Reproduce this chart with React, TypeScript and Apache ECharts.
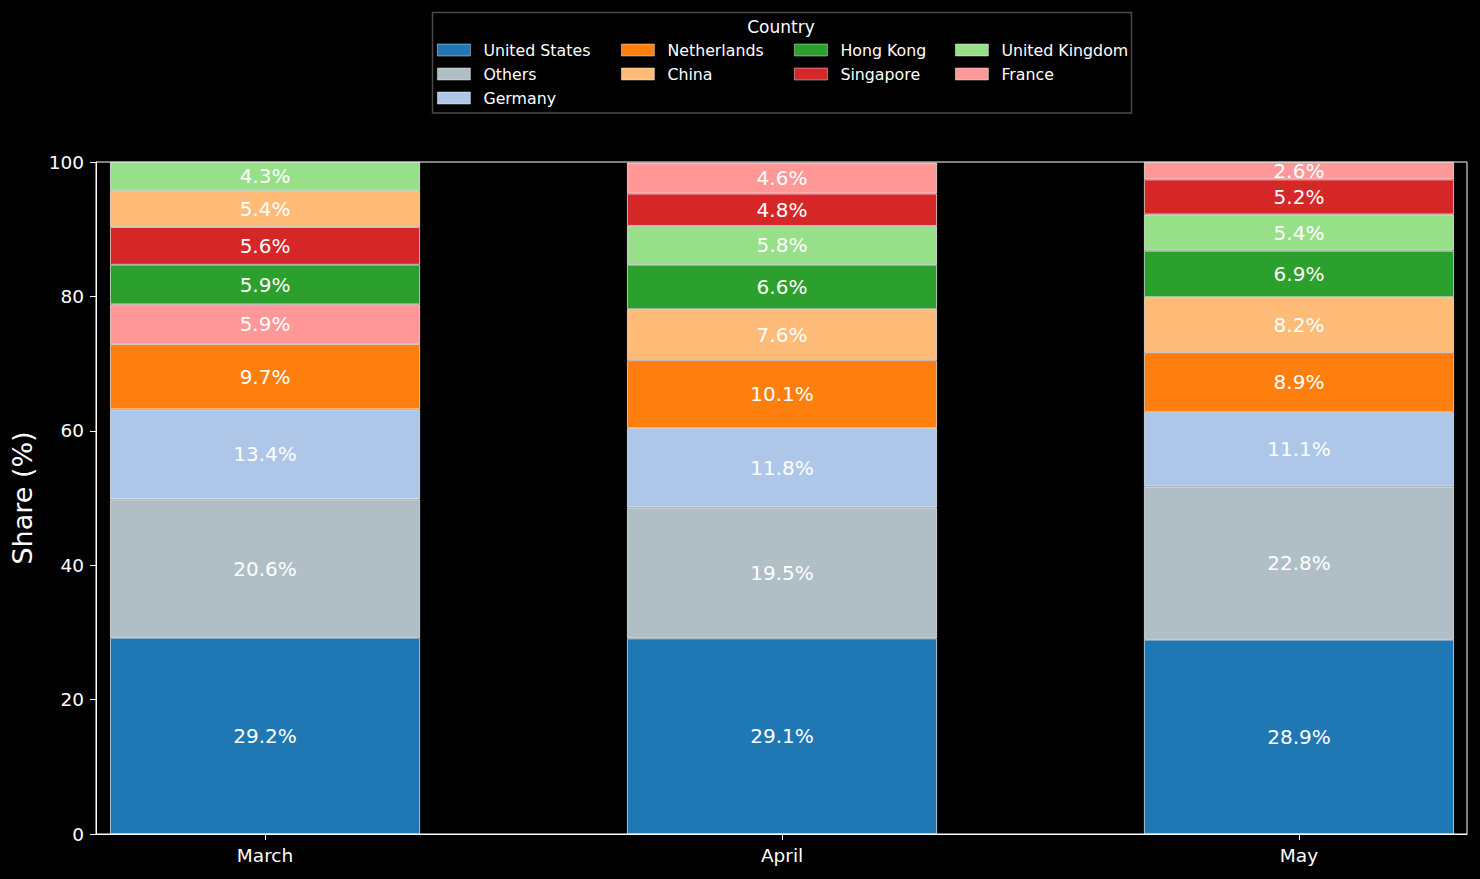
import React, { useEffect, useRef } from 'react';
import * as echarts from 'echarts';

// ---- data ----
const months = ['March', 'April', 'May'];
const countries = [
  'United States',
  'Others',
  'Germany',
  'Netherlands',
  'China',
  'Hong Kong',
  'Singapore',
  'United Kingdom',
  'France',
];
const unitedStates = [29.2, 29.1, 28.9];
const others = [20.6, 19.5, 22.8];
const germany = [13.4, 11.8, 11.1];
const netherlands = [9.7, 10.1, 8.9];
const china = [5.4, 7.6, 8.2];
const hongKong = [5.88, 6.6, 6.9];
const singapore = [5.6, 4.8, 5.2];
const unitedKingdom = [4.3, 5.8, 5.4];
const france = [5.93, 4.6, 2.6];
const yTickValues = [0, 20, 40, 60, 80, 100];

const countryValues = [
  unitedStates,
  others,
  germany,
  netherlands,
  china,
  hongKong,
  singapore,
  unitedKingdom,
  france,
];
const countryColors = [
  '#1f77b4',
  '#b0bec5',
  '#aec7e8',
  '#ff7f0e',
  '#ffbb78',
  '#2ca02c',
  '#d62728',
  '#98df8a',
  '#ff9896',
];

// legend layout (matplotlib column-major, 4 columns)
const legendColumns = [[0, 1, 2], [3, 4], [5, 6], [7, 8]];
const legendLeft = [437, 621, 794, 955];
const legendRowTop = [40, 64, 88];

const FONT = 'DejaVu Sans';

export default function App() {
  const ref = useRef<HTMLDivElement>(null);

  useEffect(() => {
    document.body.style.margin = '0';
    document.body.style.background = '#000';
    if (!ref.current) return;
    const chart = echarts.init(ref.current, null, { renderer: 'svg' });

    const rankSeries = countries.map((_, r) => ({
      type: 'bar',
      name: 'rank' + r,
      stack: 'total',
      barWidth: 310,
      encode: { x: 1, y: 0 },
      itemStyle: { borderColor: 'rgba(255,255,255,0.85)', borderWidth: 0.8 },
      label: {
        show: true,
        position: 'inside',
        color: '#ffffff',
        fontSize: 20,
        fontFamily: FONT,
        formatter: (p: any) => Number(p.value[0]).toFixed(1) + '%',
      },
      emphasis: { disabled: true },
      data: months.map((_m, mi) => {
        const order = countries
          .map((_c, ci) => ci)
          .sort((a, b) => countryValues[b][mi] - countryValues[a][mi]);
        const ci = order[r];
        return {
          value: [countryValues[ci][mi], mi],
          name: countries[ci],
          itemStyle: { color: countryColors[ci] },
        };
      }),
    }));

    const legendSeries = countries.map((c, ci) => ({
      type: 'bar',
      name: c,
      stack: 'total',
      barWidth: 310,
      encode: { x: 1, y: 0 },
      itemStyle: { color: countryColors[ci] },
      data: [],
    }));

    const legends: any[] = [];
    legendColumns.forEach((col, colIdx) => {
      col.forEach((ci, rowIdx) => {
        legends.push({
          data: [countries[ci]],
          left: legendLeft[colIdx],
          top: legendRowTop[rowIdx],
          orient: 'vertical',
          padding: 0,
          itemWidth: 33,
          itemHeight: 12,
          itemGap: 0,
          selectedMode: false,
          icon: 'rect',
          itemStyle: { borderColor: 'rgba(255,255,255,0.55)', borderWidth: 0.8 },
          textStyle: {
            color: '#ffffff',
            fontSize: 15.8,
            fontFamily: FONT,
            lineHeight: 20,
            padding: [0, 0, 0, 8],
          },
        });
      });
    });

    chart.setOption({
      animation: false,
      backgroundColor: '#000000',
      textStyle: { fontFamily: FONT },
      grid: {
        left: 96,
        right: 13,
        top: 162,
        bottom: 45,
        show: true,
        borderColor: '#ffffff',
        borderWidth: 1,
        backgroundColor: 'transparent',
        containLabel: false,
        outerBoundsMode: 'none',
      },
      legend: legends,
      graphic: [
        {
          type: 'rect',
          shape: { x: 432.5, y: 12.5, width: 699, height: 100.5 },
          style: { fill: 'none', stroke: '#4a4a4a', lineWidth: 1.5 },
          silent: true,
        },
        {
          type: 'text',
          x: 781,
          y: 27,
          style: {
            text: 'Country',
            fill: '#ffffff',
            fontSize: 17,
            fontFamily: FONT,
            textAlign: 'center',
            textVerticalAlign: 'middle',
          },
          silent: true,
        },
      ],
      xAxis: {
        type: 'value',
        min: -0.327,
        max: 2.325,
        splitLine: { show: false },
        axisLine: { show: true, lineStyle: { color: '#ffffff', width: 1 } },
        axisTick: {
          show: true,
          customValues: [0, 1, 2],
          length: 6,
          lineStyle: { color: '#ffffff', width: 1 },
        },
        axisLabel: {
          customValues: [0, 1, 2],
          formatter: (v: number) => months[Math.round(v)] ?? '',
          color: '#ffffff',
          fontSize: 18.5,
          fontFamily: FONT,
          margin: 12,
        },
      },
      yAxis: {
        type: 'value',
        min: 0,
        max: 100,
        interval: 20,
        name: 'Share (%)',
        nameLocation: 'middle',
        nameGap: 60,
        nameTextStyle: { color: '#ffffff', fontSize: 27, fontFamily: FONT },
        splitLine: { show: false },
        axisLine: { show: true, onZero: false, lineStyle: { color: '#ffffff', width: 1 } },
        axisTick: { show: true, length: 6, lineStyle: { color: '#ffffff', width: 1 } },
        axisLabel: {
          color: '#ffffff',
          fontSize: 18.5,
          fontFamily: FONT,
          margin: 12,
          formatter: (v: number) => (yTickValues.includes(v) ? String(v) : ''),
        },
      },
      series: [...rankSeries, ...legendSeries],
    });

    return () => {
      chart.dispose();
    };
  }, []);

  return <div ref={ref} style={{ width: 1480, height: 879 }} />;
}
